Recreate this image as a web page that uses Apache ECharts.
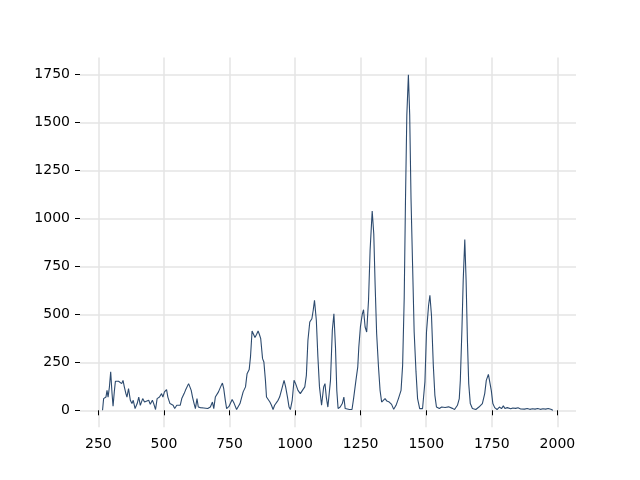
<!DOCTYPE html>
<html>
<head>
<meta charset="utf-8">
<script src="https://cdn.jsdelivr.net/npm/echarts@6/dist/echarts.min.js"></script>
<style>html,body{margin:0;padding:0;background:#fff}#c{width:640px;height:480px}</style>
</head>
<body>
<div id="c"></div>
<script>
const xs = [266,270,279,283,287,292,297,302,306,311,315,321,327,333,339,344,349,355,359,365,372,378,383,390,398,404,410,419,426,433,442,448,456,461,468,474,483,491,496,502,510,515,523,528,535,541,549,555,562,568,577,582,587,594,599,604,609,615,620,626,631,639,652,667,677,685,690,696,702,708,716,723,728,734,739,748,760,768,777,790,802,811,817,825,830,836,842,847,853,859,864,869,876,881,887,891,897,904,910,916,922,929,935,941,948,953,958,964,971,977,982,989,996,1002,1011,1020,1028,1037,1043,1049,1056,1064,1069,1074,1081,1087,1093,1101,1109,1114,1119,1125,1129,1135,1142,1148,1154,1159,1164,1172,1180,1186,1191,1197,1207,1217,1223,1232,1239,1243,1249,1256,1261,1267,1273,1280,1286,1294,1300,1305,1311,1318,1324,1330,1336,1343,1350,1359,1368,1376,1385,1394,1404,1410,1416,1421,1426,1432,1437,1442,1448,1454,1461,1467,1475,1486,1495,1501,1509,1514,1520,1527,1533,1539,1550,1559,1565,1572,1578,1585,1592,1600,1608,1614,1619,1626,1630,1636,1641,1647,1652,1657,1662,1668,1676,1689,1701,1714,1723,1729,1737,1743,1748,1754,1761,1770,1779,1787,1794,1800,1809,1822,1830,1841,1850,1860,1866,1875,1885,1895,1905,1915,1925,1935,1945,1955,1965,1975,1983];
const ys = [0,61,69,104,69,120,200,90,21,100,151,156,151,156,139,156,122,87,69,113,52,35,52,9,35,69,26,61,43,35,52,31,52,35,4,61,69,87,69,96,108,69,35,43,26,9,26,35,26,61,87,104,96,139,122,104,69,35,9,61,17,14,12,9,17,43,9,69,78,96,122,142,113,52,9,20,56,35,4,35,96,122,191,212,278,413,395,379,395,413,395,373,269,252,156,69,61,43,26,4,26,17,52,69,104,130,156,122,69,17,4,52,156,139,104,87,104,122,182,365,460,477,520,573,469,278,122,26,122,139,69,17,9,156,417,503,330,104,9,17,35,69,9,9,4,4,61,156,226,330,434,500,524,434,408,573,833,1038,920,660,399,226,104,43,43,61,48,43,31,5,26,61,104,234,582,1103,1536,1748,1536,1103,755,408,200,61,9,9,148,408,547,599,495,234,78,17,9,17,9,15,5,18,8,10,4,12,26,61,156,417,677,889,677,365,139,35,9,4,17,35,87,156,187,182,104,35,14,4,17,9,23,9,14,8,12,10,13,7,10,6,9,5,8,6,9,5,8,6,9,5,0];
const xTicks = [250,500,750,1000,1250,1500,1750,2000];
const yTicks = [0,250,500,750,1000,1250,1500,1750];

const data = xs.map((x,i)=>[x, ys[i]]);
const chart = echarts.init(document.getElementById('c'), null, {renderer:'canvas'});
const labelStyle = {color:'#000', fontFamily:'DejaVu Sans', fontSize:14, formatter:(v)=>String(v)};
chart.setOption({
  animation:false,
  backgroundColor:'#fff',
  grid:{left:80, right:64, top:57.6, bottom:52.8, containLabel:false},
  xAxis:{
    type:'value', min:180, max:2071,
    axisLine:{show:false},
    axisTick:{show:true, length:5, lineStyle:{color:'#000', width:1}, customValues:xTicks},
    axisLabel:Object.assign({margin:10, customValues:xTicks}, labelStyle),
    splitLine:{show:true, lineStyle:{color:'#e5e5e5', width:1.5}}
  },
  yAxis:{
    type:'value', min:-88, max:1837,
    axisLine:{show:false},
    axisTick:{show:true, length:5, lineStyle:{color:'#000', width:1}, customValues:yTicks},
    axisLabel:Object.assign({margin:10, customValues:yTicks}, labelStyle),
    splitLine:{show:true, lineStyle:{color:'#e5e5e5', width:1.5}}
  },
  series:[{
    type:'line', data:data, showSymbol:false, symbol:'none',
    lineStyle:{color:'#2c4a6e', width:1.1}, z:3
  }]
});
</script>
</body>
</html>
